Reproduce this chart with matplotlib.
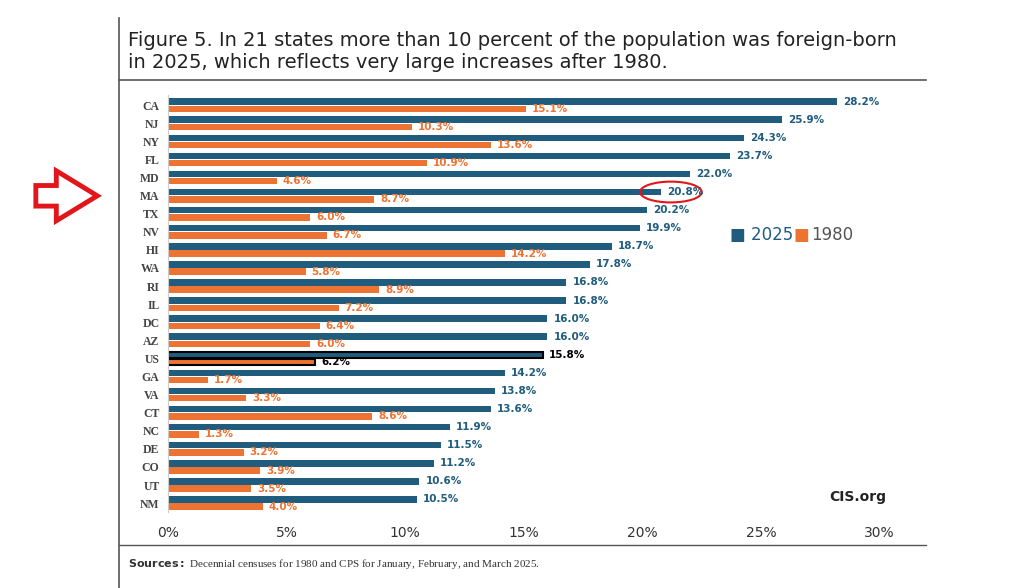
import matplotlib
matplotlib.use("Agg")
import matplotlib.pyplot as plt
from matplotlib.patches import Ellipse, FancyArrow
from matplotlib.lines import Line2D
import numpy as np

states = ["CA","NJ","NY","FL","MD","MA","TX","NV","HI","WA","RI","IL","DC","AZ","US","GA","VA","CT","NC","DE","CO","UT","NM"]
v2025 = [28.2,25.9,24.3,23.7,22.0,20.8,20.2,19.9,18.7,17.8,16.8,16.8,16.0,16.0,15.8,14.2,13.8,13.6,11.9,11.5,11.2,10.6,10.5]
v1980 = [15.1,10.3,13.6,10.9,4.6,8.7,6.0,6.7,14.2,5.8,8.9,7.2,6.4,6.0,6.2,1.7,3.3,8.6,1.3,3.2,3.9,3.5,4.0]
xticks = [0,5,10,15,20,25,30]

BLUE = "#1f5c7e"; ORANGE = "#ec7331"
fig = plt.figure(figsize=(10.24,5.88), dpi=100)
ax = fig.add_axes([0.164, 0.129, 0.695, 0.709])
n = len(states)
y = np.arange(n)
h = 0.36
ec25 = ["black" if s=="US" else "none" for s in states]
lw = [1.5 if s=="US" else 0 for s in states]
ax.barh(y-0.2, v2025, height=h, color=BLUE, edgecolor=ec25, linewidth=lw)
ax.barh(y+0.2, v1980, height=h, color=ORANGE, edgecolor=ec25, linewidth=lw)
for i,s in enumerate(states):
    c1 = "black" if s=="US" else BLUE
    c2 = "black" if s=="US" else ORANGE
    ax.text(v2025[i]+0.25, i-0.2, f"{v2025[i]:.1f}%", va="center", fontsize=7.5, fontweight="bold", color=c1)
    ax.text(v1980[i]+0.25, i+0.2, f"{v1980[i]:.1f}%", va="center", fontsize=7.5, fontweight="bold", color=c2)
ax.set_ylim(n-0.5, -0.55)
ax.set_xlim(0,30)
ax.set_xticks(xticks)
ax.set_xticklabels([f"{t}%" for t in xticks], fontsize=10, color="#333333")
ax.set_yticks(y)
ax.set_yticklabels(states, fontsize=8.5, fontweight="bold", family="Liberation Serif", color="#444444")
ax.tick_params(length=0, pad=6)
ax.tick_params(axis="x", pad=10)
for sp in ["top","right","bottom"]:
    ax.spines[sp].set_visible(False)
ax.spines["left"].set_color("#cccccc")

ax.add_patch(Ellipse((21.2, 5-0.2), 2.6, 1.15, fill=False, edgecolor="#e0161b", linewidth=1.5))

fig.text(0.713, 0.592, "■ 2025", color=BLUE, fontsize=12)
fig.text(0.775, 0.592, "■", color=ORANGE, fontsize=12)
fig.text(0.792, 0.592, "1980", color="#555555", fontsize=12)
fig.text(0.714, 0.592, "", fontsize=12)
fig.text(0.81, 0.148, "CIS.org", fontsize=10, fontweight="bold", color="#222222")

fig.text(0.125, 0.885, "Figure 5. In 21 states more than 10 percent of the population was foreign-born\nin 2025, which reflects very large increases after 1980.",
         fontsize=14, color="#222222", linespacing=1.15)
fig.add_artist(Line2D([0.116,0.904],[0.864,0.864], color="#555555", lw=1.2))
fig.add_artist(Line2D([0.116,0.116],[0.0,0.97], color="#555555", lw=1.2))
fig.add_artist(Line2D([0.116,0.904],[0.073,0.073], color="#555555", lw=1.0))
fig.text(0.125, 0.035, r"$\bf{Sources:}$ Decennial censuses for 1980 and CPS for January, February, and March 2025.",
         fontsize=8, family="Liberation Serif", color="#333333")

fig.add_artist(FancyArrow(0.035, 0.667, 0.06, 0, width=0.035, head_width=0.085, head_length=0.04,
                          length_includes_head=True, transform=fig.transFigure,
                          facecolor="white", edgecolor="#e0161b", linewidth=3.5))
fig.savefig("out.png", dpi=100)
